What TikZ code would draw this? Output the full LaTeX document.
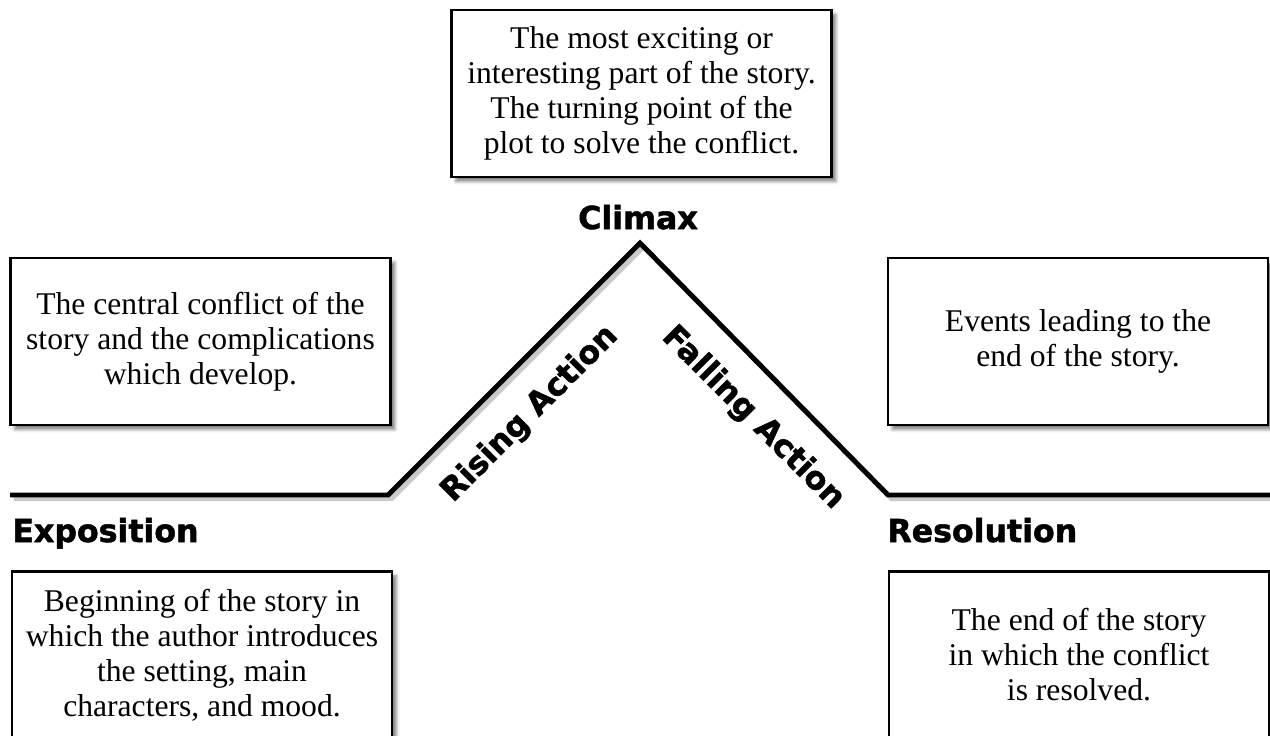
\documentclass[tikz,border=0pt]{standalone}
\usepackage{fontspec}
\setmainfont{Liberation Serif}
\newfontfamily\headfont{DejaVu Sans}[BoldFeatures={FakeBold=1.6}]
\usetikzlibrary{shadows.blur, positioning}

\begin{document}
\begin{tikzpicture}[x=0.02cm, y=-0.02cm, line join=miter,
    descbox/.style={draw, line width=1.2pt, fill=white, minimum width=7.6cm, minimum height=3.34cm,
      align=center, font=\fontsize{18}{19.9}\selectfont,
      blur shadow={shadow xshift=2.5pt, shadow yshift=-2.5pt, shadow opacity=50}},
    stage/.style={inner sep=0pt, font=\headfont\bfseries\fontsize{18}{20}\selectfont}]
    \useasboundingbox (0,0) rectangle (1270,735);
    \clip (0,0) rectangle (1270,735);

    % plot line
    \coordinate (start) at (10,495);
    \coordinate (rise) at (388,495);
    \coordinate (peak) at (640,243);
    \coordinate (fall) at (888,495);
    \coordinate (finish) at (1275,495);
    \begin{scope}[transform canvas={xshift=2pt, yshift=-2pt}]
        \draw[line width=3pt, black!35, opacity=.6] (start) -- (rise) -- (peak) -- (fall) -- (finish);
    \end{scope}
    \draw[line width=2.8pt] (start) -- (rise) -- (peak) -- (fall) -- (finish);

    % stage names
    \node[stage, anchor=base] (climax) at (638,229) {Climax};
    \node[stage, anchor=base west] (exposition) at (12,542) {Exposition};
    \node[stage, anchor=base west] (resolution) at (887,542) {Resolution};
    \node[stage, rotate=45] (rising) at (530,414) {Rising Action};
    \node[stage, rotate=-45] (falling) at (753,418) {Falling Action};

    % descriptions
    \node[descbox] (climaxbox) at (641.5,93.5) {The most exciting or\\interesting part of the story.\\The turning point of the\\plot to solve the conflict.};
    \node[descbox] (risingbox) at (200.5,341.5) {The central conflict of the\\story and the complications\\which develop.};
    \node[descbox] (fallingbox) at (1078,341.5) {Events leading to the\\end of the story.};
    \node[descbox] (expobox) at (202,655) {Beginning of the story in\\which the author introduces\\the setting, main\\characters, and mood.};
    \node[descbox] (resobox) at (1079,655) {The end of the story\\in which the conflict\\is resolved.};
\end{tikzpicture}
\end{document}
